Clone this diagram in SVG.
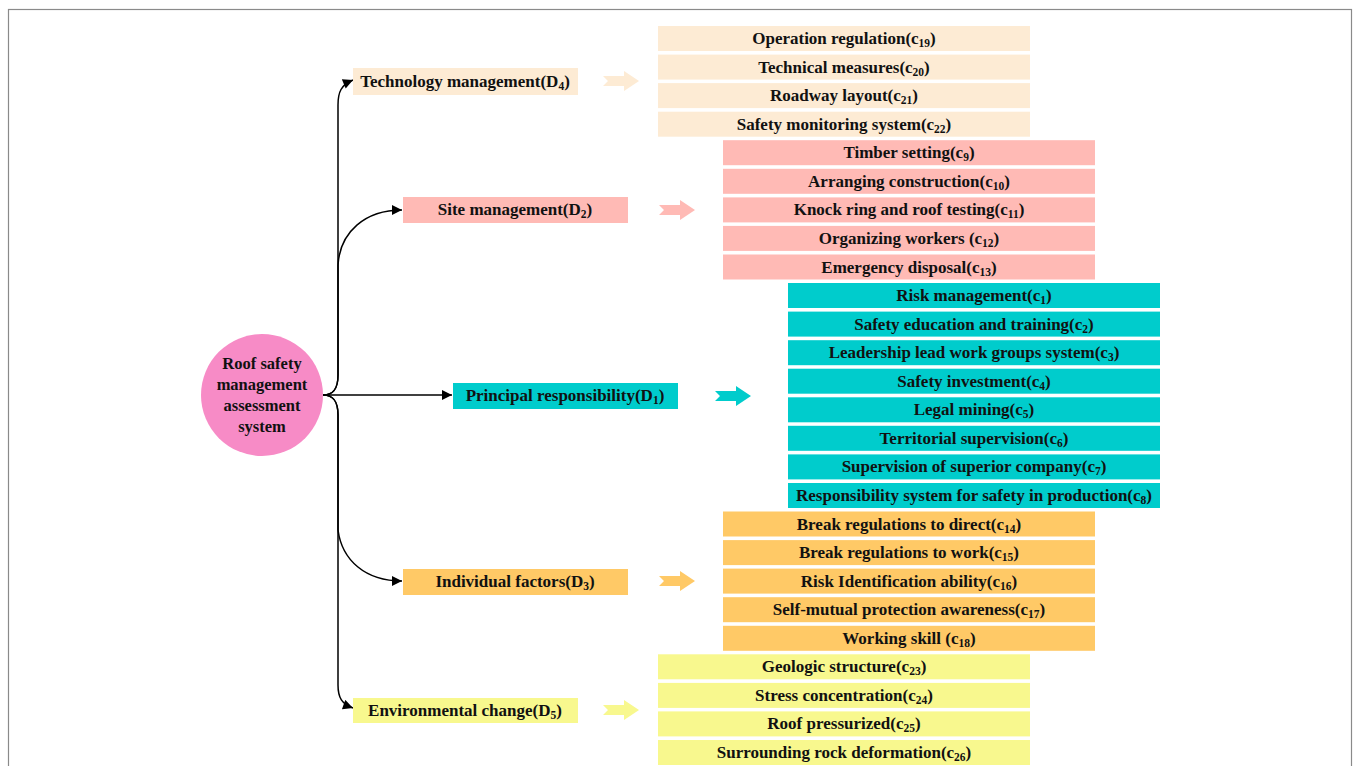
<svg xmlns="http://www.w3.org/2000/svg" width="1356" height="766" viewBox="0 0 1356 766">
<defs>
<style>
.t{font-family:"Liberation Serif","Times New Roman","DejaVu Serif",serif;font-weight:bold;font-size:17px;fill:#111;text-anchor:middle}
.r{font-size:16.5px}
.s{font-size:11.5px}
.con{fill:none;stroke:#000;stroke-width:1.5}
.peach{fill:#FDEBD4}
.pink{fill:#FFBAB5}
.teal{fill:#00CCCC}
.orange{fill:#FFC966}
.yellow{fill:#F8F88E}
</style>
<marker id="ah" viewBox="0 0 10 10" refX="10" refY="5" markerWidth="11" markerHeight="10" markerUnits="userSpaceOnUse" orient="auto">
<path d="M0,0 L10,5 L0,10 z" fill="#000"/>
</marker>
<path id="barrow" d="M0,-5 H21 V-10 L36,0 L21,10 V5 H0 L5,0 z"/>
</defs>
<rect x="0" y="0" width="1356" height="766" fill="#fff"/>
<rect x="8.5" y="9.5" width="1343" height="800" fill="none" stroke="#8a8a8a" stroke-width="1.2"/>

<g id="connectors">
<path class="con" d="M323,395 H452" marker-end="url(#ah)"/>
<path class="con" d="M323,395 C334,395 338,388 338,375 V105 C338,92 341,85 353,80" marker-end="url(#ah)"/>
<path class="con" d="M323,395 C334,395 338,388 338,375 V265 C340,232 365,210 402,210" marker-end="url(#ah)"/>
<path class="con" d="M323,395 C334,395 338,402 338,415 V530 C342,560 365,581 402,581" marker-end="url(#ah)"/>
<path class="con" d="M323,395 C334,395 338,402 338,415 V685 C338,698 342,704 353,708" marker-end="url(#ah)"/>
</g>

<g id="root">
<circle cx="262" cy="395" r="61" fill="#F78BC6"/>
<text class="t r" x="262" y="369">Roof safety</text>
<text class="t r" x="262" y="390">management</text>
<text class="t r" x="262" y="411">assessment</text>
<text class="t r" x="262" y="432">system</text>
</g>

<g id="D4">
<rect class="peach" x="353" y="68" width="225" height="27"/>
<text class="t" x="465" y="87">Technology management(D<tspan class="s" dy="3">4</tspan><tspan dy="-3">)</tspan></text>
<use href="#barrow" class="peach" x="603" y="81"/>
</g>
<g id="D2">
<rect class="pink" x="403" y="197" width="225" height="26"/>
<text class="t" x="515" y="215">Site management(D<tspan class="s" dy="3">2</tspan><tspan dy="-3">)</tspan></text>
<use href="#barrow" class="pink" x="659" y="210"/>
</g>
<g id="D1">
<rect class="teal" x="453" y="383" width="225" height="26"/>
<text class="t" x="565" y="401">Principal responsibility(D<tspan class="s" dy="3">1</tspan><tspan dy="-3">)</tspan></text>
<use href="#barrow" class="teal" x="715" y="396"/>
</g>
<g id="D3">
<rect class="orange" x="403" y="569" width="225" height="26"/>
<text class="t" x="515" y="587">Individual factors(D<tspan class="s" dy="3">3</tspan><tspan dy="-3">)</tspan></text>
<use href="#barrow" class="orange" x="659" y="581"/>
</g>
<g id="D5">
<rect class="yellow" x="353" y="698" width="225" height="25"/>
<text class="t" x="465" y="716">Environmental change(D<tspan class="s" dy="3">5</tspan><tspan dy="-3">)</tspan></text>
<use href="#barrow" class="yellow" x="603" y="710"/>
</g>

<g id="c19"><rect class="peach" x="658" y="26" width="372" height="25"/><text class="t" x="844" y="44">Operation regulation(c<tspan class="s" dy="3">19</tspan><tspan dy="-3">)</tspan></text></g>
<g id="c20"><rect class="peach" x="658" y="54.6" width="372" height="25"/><text class="t" x="844" y="72.6">Technical measures(c<tspan class="s" dy="3">20</tspan><tspan dy="-3">)</tspan></text></g>
<g id="c21"><rect class="peach" x="658" y="83.1" width="372" height="25"/><text class="t" x="844" y="101.1">Roadway layout(c<tspan class="s" dy="3">21</tspan><tspan dy="-3">)</tspan></text></g>
<g id="c22"><rect class="peach" x="658" y="111.7" width="372" height="25"/><text class="t" x="844" y="129.7">Safety monitoring system(c<tspan class="s" dy="3">22</tspan><tspan dy="-3">)</tspan></text></g>

<g id="c9"><rect class="pink" x="723" y="140.2" width="372" height="25"/><text class="t" x="909" y="158.2">Timber setting(c<tspan class="s" dy="3">9</tspan><tspan dy="-3">)</tspan></text></g>
<g id="c10"><rect class="pink" x="723" y="168.8" width="372" height="25"/><text class="t" x="909" y="186.8">Arranging construction(c<tspan class="s" dy="3">10</tspan><tspan dy="-3">)</tspan></text></g>
<g id="c11"><rect class="pink" x="723" y="197.4" width="372" height="25"/><text class="t" x="909" y="215.4">Knock ring and roof testing(c<tspan class="s" dy="3">11</tspan><tspan dy="-3">)</tspan></text></g>
<g id="c12"><rect class="pink" x="723" y="225.9" width="372" height="25"/><text class="t" x="909" y="243.9">Organizing workers (c<tspan class="s" dy="3">12</tspan><tspan dy="-3">)</tspan></text></g>
<g id="c13"><rect class="pink" x="723" y="254.5" width="372" height="25"/><text class="t" x="909" y="272.5">Emergency disposal(c<tspan class="s" dy="3">13</tspan><tspan dy="-3">)</tspan></text></g>

<g id="c1"><rect class="teal" x="788" y="283" width="372" height="25"/><text class="t" x="974" y="301">Risk management(c<tspan class="s" dy="3">1</tspan><tspan dy="-3">)</tspan></text></g>
<g id="c2"><rect class="teal" x="788" y="311.6" width="372" height="25"/><text class="t" x="974" y="329.6">Safety education and training(c<tspan class="s" dy="3">2</tspan><tspan dy="-3">)</tspan></text></g>
<g id="c3"><rect class="teal" x="788" y="340.2" width="372" height="25"/><text class="t" x="974" y="358.2">Leadership lead work groups system(c<tspan class="s" dy="3">3</tspan><tspan dy="-3">)</tspan></text></g>
<g id="c4"><rect class="teal" x="788" y="368.7" width="372" height="25"/><text class="t" x="974" y="386.7">Safety investment(c<tspan class="s" dy="3">4</tspan><tspan dy="-3">)</tspan></text></g>
<g id="c5"><rect class="teal" x="788" y="397.3" width="372" height="25"/><text class="t" x="974" y="415.3">Legal mining(c<tspan class="s" dy="3">5</tspan><tspan dy="-3">)</tspan></text></g>
<g id="c6"><rect class="teal" x="788" y="425.8" width="372" height="25"/><text class="t" x="974" y="443.8">Territorial supervision(c<tspan class="s" dy="3">6</tspan><tspan dy="-3">)</tspan></text></g>
<g id="c7"><rect class="teal" x="788" y="454.4" width="372" height="25"/><text class="t" x="974" y="472.4">Supervision of superior company(c<tspan class="s" dy="3">7</tspan><tspan dy="-3">)</tspan></text></g>
<g id="c8"><rect class="teal" x="788" y="483" width="372" height="25"/><text class="t" x="974" y="501">Responsibility system for safety in production(c<tspan class="s" dy="3">8</tspan><tspan dy="-3">)</tspan></text></g>

<g id="c14"><rect class="orange" x="723" y="511.5" width="372" height="25"/><text class="t" x="909" y="529.5">Break regulations to direct(c<tspan class="s" dy="3">14</tspan><tspan dy="-3">)</tspan></text></g>
<g id="c15"><rect class="orange" x="723" y="540.1" width="372" height="25"/><text class="t" x="909" y="558.1">Break regulations to work(c<tspan class="s" dy="3">15</tspan><tspan dy="-3">)</tspan></text></g>
<g id="c16"><rect class="orange" x="723" y="568.6" width="372" height="25"/><text class="t" x="909" y="586.6">Risk Identification ability(c<tspan class="s" dy="3">16</tspan><tspan dy="-3">)</tspan></text></g>
<g id="c17"><rect class="orange" x="723" y="597.2" width="372" height="25"/><text class="t" x="909" y="615.2">Self-mutual protection awareness(c<tspan class="s" dy="3">17</tspan><tspan dy="-3">)</tspan></text></g>
<g id="c18"><rect class="orange" x="723" y="625.8" width="372" height="25"/><text class="t" x="909" y="643.8">Working skill (c<tspan class="s" dy="3">18</tspan><tspan dy="-3">)</tspan></text></g>

<g id="c23"><rect class="yellow" x="658" y="654.3" width="372" height="25"/><text class="t" x="844" y="672.3">Geologic structure(c<tspan class="s" dy="3">23</tspan><tspan dy="-3">)</tspan></text></g>
<g id="c24"><rect class="yellow" x="658" y="682.9" width="372" height="25"/><text class="t" x="844" y="700.9">Stress concentration(c<tspan class="s" dy="3">24</tspan><tspan dy="-3">)</tspan></text></g>
<g id="c25"><rect class="yellow" x="658" y="711.4" width="372" height="25"/><text class="t" x="844" y="729.4">Roof pressurized(c<tspan class="s" dy="3">25</tspan><tspan dy="-3">)</tspan></text></g>
<g id="c26"><rect class="yellow" x="658" y="740" width="372" height="25"/><text class="t" x="844" y="758">Surrounding rock deformation(c<tspan class="s" dy="3">26</tspan><tspan dy="-3">)</tspan></text></g>
</svg>
